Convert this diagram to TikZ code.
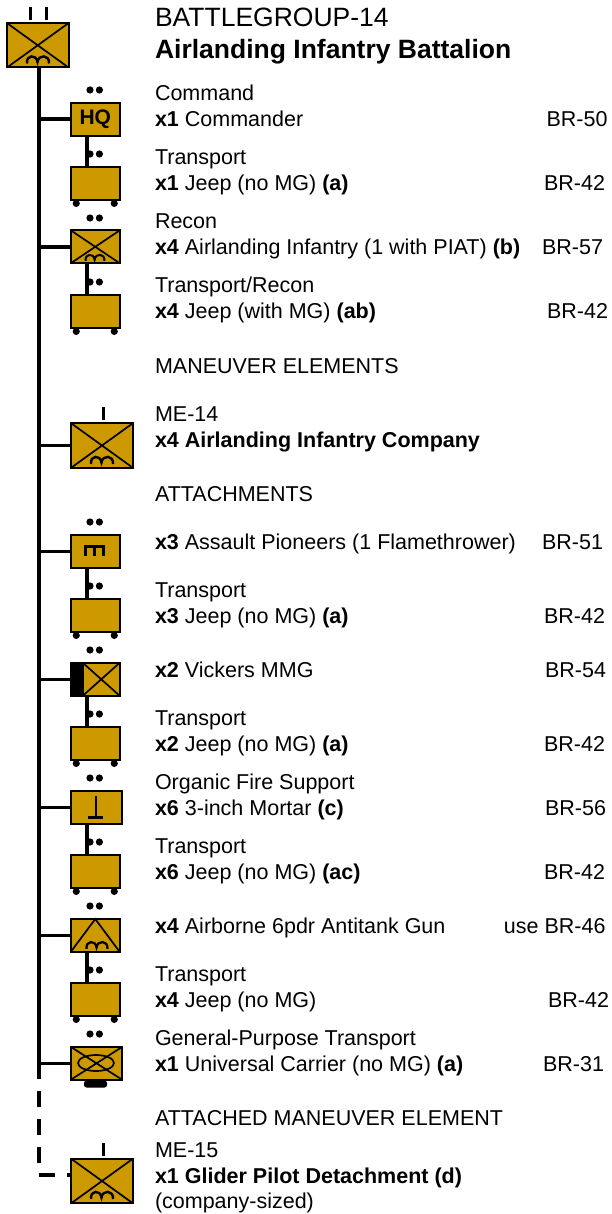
\documentclass[tikz,border=0pt]{standalone}
\usepackage{fontspec}
\usetikzlibrary{shapes.geometric}
\setmainfont{Liberation Sans}
\definecolor{unitfill}{RGB}{204,153,0}
\newcommand{\humpat}[3]{\begin{scope}[shift={(#1,#2)},scale=#3]
\draw[line width=#3*2.4pt,line cap=butt] (-11,4) .. controls (-12,-5) and (-1.5,-5.5) .. (-0.5,2.5) .. controls (0.5,-5.5) and (12,-5) .. (11,4);
\end{scope}}
\newcommand{\crossin}[1]{\draw[line width=1.7pt] (#1.north west) -- (#1.south east) (#1.north east) -- (#1.south west);}
\newcommand{\rank}[2]{\fill (#1-4.7,#2) circle (3.6) (#1+4.7,#2) circle (3.6);}
\newcommand{\wheels}[1]{\fill ([xshift=-19pt,yshift=-3.8pt]#1.south) circle (3.6) ([xshift=19pt,yshift=-3.8pt]#1.south) circle (3.6);}
\newcommand{\tx}[3]{\node[txt] (#3) at (155,#1) {#2};}
\tikzset{
  ubox/.style={draw=black,fill=unitfill,line width=2pt,inner sep=0,outer sep=0,rectangle},
  small/.style={ubox,minimum width=48.5pt,minimum height=32.6pt},
  wide/.style={ubox,minimum width=51pt,minimum height=32.6pt},
  large/.style={ubox,minimum width=61.5pt,minimum height=44.4pt},
  txt/.style={anchor=base west,inner sep=0,outer sep=0,font=\fontsize{21.5}{21.5}\selectfont},
  brt/.style={anchor=base east,inner sep=0,outer sep=0,font=\fontsize{21.5}{21.5}\selectfont},
  bar/.style={line width=4pt},
  link/.style={line width=3.6pt},
  tick/.style={line width=3pt},
}
\begin{document}
\begin{tikzpicture}[x=1pt,y=-1pt]
\useasboundingbox[fill=white] (0,0) rectangle (611,1214);
% top
\node[large] (top) at (37.75,45.3) {};
\crossin{top}
\humpat{38}{59.5}{1}
\draw[tick] (30,7) -- (30,20) (46,7) -- (46,20);
% coordinates on the spine
\coordinate (sp0) at (39,67);
\coordinate (sp1) at (39,1079);
\coordinate (sp2) at (39,1091);
\coordinate (sp3) at (39,1163);
% units
\node[small] (hq) at (95.25,119.3) {\fontsize{21}{21}\selectfont\bfseries HQ};
\node[small] (t1) at (95.25,183.3) {};
\node[small] (rc) at (95.25,246.8) {};
\crossin{rc}
\humpat{95}{257.5}{.85}
\node[small] (t2) at (95.25,311.3) {};
\node[large] (me14) at (102,445.5) {};
\crossin{me14}
\humpat{102}{460}{1}
\node[small] (pi) at (95.25,551.3) {};
\draw[line width=3.2pt] (85.5,556) -- (85.5,546.5) -- (103.5,546.5) -- (103.5,556) (94.5,546.5) -- (94.5,556);
\node[small] (t3) at (95.25,615.3) {};
\node[small] (mg) at (95.25,679.3) {};
\fill ([xshift=-1pt]mg.north west) rectangle ([xshift=13pt,yshift=1pt]mg.south west);
\draw[line width=1.7pt] ([xshift=12pt]mg.north west) -- (mg.south east) ([xshift=12pt]mg.south west) -- (mg.north east);
\node[small] (t4) at (95.25,743.3) {};
\node[wide] (mo) at (96.5,807.3) {};
\draw[line width=2.6pt] (96,796) -- (96,817);
\draw[line width=3pt] (88,817) -- (103,817);
\node[small] (t5) at (95.25,871.3) {};
\node[small] (at) at (95.25,935.3) {};
\draw[line width=1.7pt] (at.south west) -- (at.north) -- (at.south east);
\humpat{97}{945}{.95}
\node[small] (t6) at (95.25,999.3) {};
\node[wide] (uc) at (96.5,1063.3) {};
\crossin{uc}
\node[draw=black,line width=1.7pt,ellipse,inner sep=0,minimum width=36pt,minimum height=16pt] (ucel) at (96,1063) {};
\node[fill=black,rounded corners=2.5pt,minimum width=23pt,minimum height=7pt,inner sep=0] (uctr) at (95.5,1084) {};
\node[large] (me15) at (102,1181) {};
\crossin{me15}
\humpat{102}{1195}{1}
\draw[tick] (103,407) -- (103,420) (103,1143) -- (103,1156);
% wheels
\foreach \n in {t1,t2,t3,t4,t5,t6} {\wheels{\n}}
% rank dots
\rank{94.7}{90}\rank{94.7}{154}\rank{94.7}{218}\rank{94.7}{282}
\rank{94.7}{522}\rank{94.7}{586}\rank{94.7}{650}\rank{94.7}{714}
\rank{94.7}{778}\rank{94.7}{842}\rank{94.7}{906}\rank{94.7}{970}\rank{94.7}{1034}
% spine
\draw[bar] (sp0) -- (sp1);
\draw[bar,dash pattern=on 16pt off 12pt] (sp2) -- (sp3);
% branch links
\foreach \n in {hq,rc,me14,pi,mg,mo,at,uc} {\draw[link] (sp0 |- \n.west) -- (\n.west);}
% stems
\foreach \a/\b in {hq/t1,rc/t2,pi/t3,mg/t4} {\draw[link] ([xshift=-8.25pt]\a.south) -- ([xshift=-8.25pt]\b.north);}
\draw[link] ([xshift=-9.5pt]mo.south) -- ([xshift=-8.25pt]t5.north);
\draw[link] ([xshift=-8.25pt]at.south) -- ([xshift=-8.25pt]t6.north);
\coordinate (elb) at (39,1175);
\draw[link,dash pattern=on 16pt off 12pt] (elb) -- (elb -| me15.west);
% texts
\node[txt,font=\fontsize{26.5}{26.5}\selectfont] (title1) at (155,27) {BATTLEGROUP-14};
\node[txt,font=\fontsize{26.5}{26.5}\selectfont\bfseries] (title2) at (155,59) {Airlanding Infantry Battalion};
\tx{101}{Command}{a1}
\tx{127}{\textbf{x1} Commander}{a2}
\tx{165}{Transport}{a3}
\tx{191}{\textbf{x1} Jeep (no MG) \textbf{(a)}}{a4}
\tx{229}{Recon}{a5}
\tx{255}{\textbf{x4} Airlanding Infantry (1 with PIAT) \textbf{(b)}}{a6}
\tx{293}{Transport/Recon}{a7}
\tx{319}{\textbf{x4} Jeep (with MG) \textbf{(ab)}}{a8}
\tx{373}{MANEUVER ELEMENTS}{a9}
\tx{421}{ME-14}{a10}
\tx{447}{\textbf{x4 Airlanding Infantry Company}}{a11}
\tx{501}{ATTACHMENTS}{a12}
\tx{549}{\textbf{x3} Assault Pioneers (1 Flamethrower)}{a13}
\tx{597}{Transport}{a14}
\tx{623}{\textbf{x3} Jeep (no MG) \textbf{(a)}}{a15}
\tx{677}{\textbf{x2} Vickers MMG}{a16}
\tx{725}{Transport}{a17}
\tx{751}{\textbf{x2} Jeep (no MG) \textbf{(a)}}{a18}
\tx{789}{Organic Fire Support}{a19}
\tx{815}{\textbf{x6} 3-inch Mortar \textbf{(c)}}{a20}
\tx{853}{Transport}{a21}
\tx{879}{\textbf{x6} Jeep (no MG) \textbf{(ac)}}{a22}
\tx{933}{\textbf{x4} Airborne 6pdr Antitank Gun}{a23}
\tx{981}{Transport}{a24}
\tx{1007}{\textbf{x4} Jeep (no MG)}{a25}
\tx{1045}{General-Purpose Transport}{a26}
\tx{1071}{\textbf{x1} Universal Carrier (no MG) \textbf{(a)}}{a27}
\tx{1125}{ATTACHED MANEUVER ELEMENT}{a28}
\tx{1157}{ME-15}{a29}
\tx{1183}{\textbf{x1 Glider Pilot Detachment (d)}}{a30}
\tx{1208}{(company-sized)}{a31}
% BR values
\node[brt] (b1) at (607.5,127) {BR-50};
\node[brt] (b2) at (605,191) {BR-42};
\node[brt] (b3) at (603,255) {BR-57};
\node[brt] (b4) at (608,319) {BR-42};
\node[brt] (b5) at (603,549) {BR-51};
\node[brt] (b6) at (605,623) {BR-42};
\node[brt] (b7) at (606,677) {BR-54};
\node[brt] (b8) at (605,751) {BR-42};
\node[brt] (b9) at (606,815) {BR-56};
\node[brt] (b10) at (605,879) {BR-42};
\node[brt] (b11) at (605.5,933) {use BR-46};
\node[brt] (b12) at (609,1007) {BR-42};
\node[brt] (b13) at (604,1071) {BR-31};
\end{tikzpicture}
\end{document}
